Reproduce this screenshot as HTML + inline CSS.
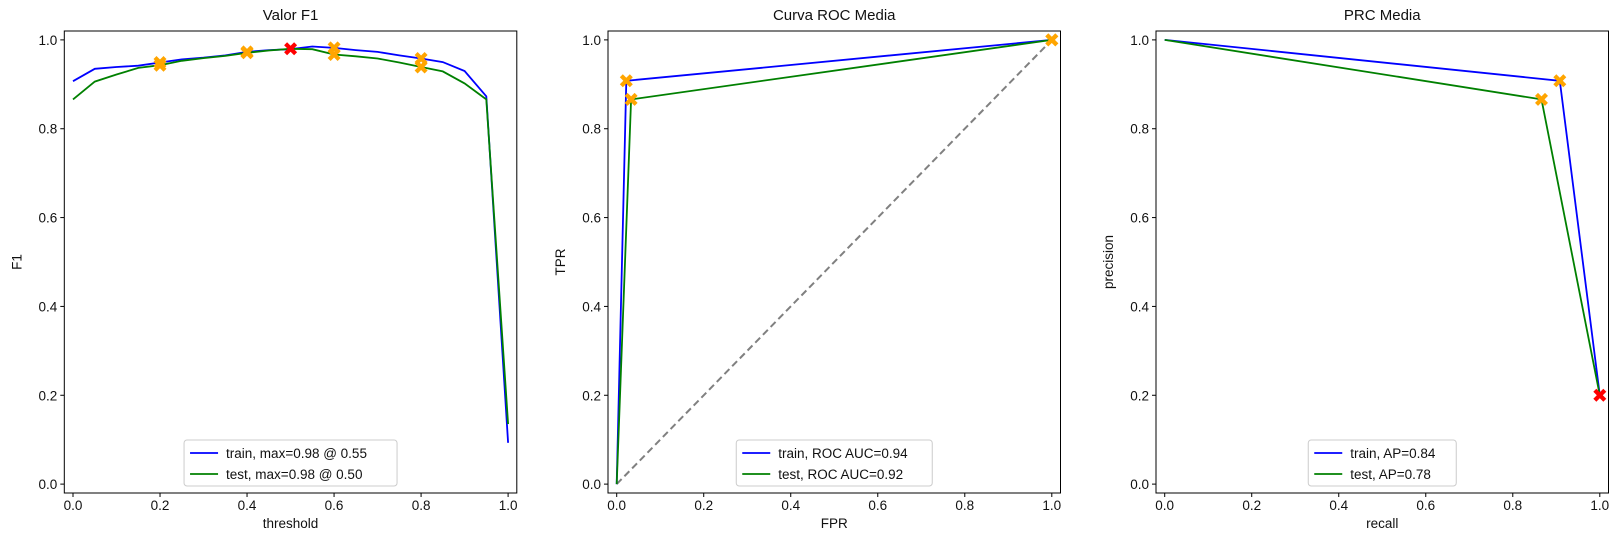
<!DOCTYPE html>
<html><head><meta charset="utf-8"><style>
html,body{margin:0;padding:0;background:#fff;}
svg{display:block;font-family:"Liberation Sans","DejaVu Sans",sans-serif;}
text{fill:#111;}
</style></head><body>
<svg id="fig" width="1623" height="546" viewBox="0 0 1623 546" xmlns="http://www.w3.org/2000/svg"></svg>
<script>
// ---- data ----
const thresholds = [0,0.05,0.1,0.15,0.2,0.25,0.3,0.35,0.4,0.45,0.5,0.55,0.6,0.65,0.7,0.75,0.8,0.85,0.9,0.95,1.0];
const f1Train = [0.907,0.935,0.939,0.942,0.949,0.956,0.960,0.965,0.973,0.977,0.979,0.985,0.982,0.977,0.973,0.965,0.958,0.950,0.930,0.873,0.093];
const f1Test  = [0.866,0.906,0.922,0.937,0.943,0.953,0.959,0.964,0.971,0.976,0.980,0.979,0.967,0.963,0.958,0.949,0.939,0.929,0.902,0.866,0.135];
const markThresholds = [0.2,0.4,0.6,0.8];
const bestThreshold = 0.5;
const rocTrainFpr = [0,0.022,1]; const rocTrainTpr = [0,0.908,1];
const rocTestFpr  = [0,0.033,1]; const rocTestTpr  = [0,0.866,1];
const prcTrainRecall = [0,0.908,1]; const prcTrainPrecision = [1,0.908,0.2];
const prcTestRecall  = [0,0.866,1]; const prcTestPrecision  = [1,0.866,0.2];
const ticks = [0,0.2,0.4,0.6,0.8,1.0];
const tickLabels = ["0.0","0.2","0.4","0.6","0.8","1.0"];

const NS="http://www.w3.org/2000/svg";
const svg=document.getElementById('fig');
function mk(tag,attrs,parent){const e=document.createElementNS(NS,tag);for(const k in attrs)e.setAttribute(k,attrs[k]);(parent||svg).appendChild(e);return e;}

const W=452.5,TOP=31,BOT=493;
function panel(left,title,xlabel,ylabel,name){
  const g=mk('g',{});
  
  
  const xs=v=>left+(v+0.02)/1.04*W;
  const ys=v=>BOT-(v+0.02)/1.04*(BOT-TOP);
  const t=mk('text',{x:left+W/2,y:20,'text-anchor':'middle','font-size':15},g);t.textContent=title;
  
  ticks.forEach((v,i)=>{
    const xt=mk('g',{},g);
    
    mk('line',{x1:xs(v),x2:xs(v),y1:BOT,y2:BOT+4,stroke:'#000','stroke-width':1},xt);
    const tx=mk('text',{x:xs(v),y:BOT+17,'text-anchor':'middle','font-size':13.5},xt);tx.textContent=tickLabels[i];
    const yt=mk('g',{},g);
    
    mk('line',{x1:left-4,x2:left,y1:ys(v),y2:ys(v),stroke:'#000','stroke-width':1},yt);
    const ty=mk('text',{x:left-7,y:ys(v)+5,'text-anchor':'end','font-size':13.5},yt);ty.textContent=tickLabels[i];
  });
  const xl=mk('text',{x:left+W/2,y:BOT+35,'text-anchor':'middle','font-size':13.5},g);xl.textContent=xlabel;
  
  const yl=mk('text',{x:0,y:0,'text-anchor':'middle','font-size':13.5,transform:`translate(${left-43},${(TOP+BOT)/2}) rotate(-90)`},g);yl.textContent=ylabel;
  
  return {g,xs,ys,left};
}
function line(p,xv,yv,color,name,extra){
  const d=xv.map((x,i)=>(i?'L':'M')+p.xs(x).toFixed(1)+','+p.ys(yv[i]).toFixed(1)).join('');
  const e=mk('path',Object.assign({d,fill:'none',stroke:color,'stroke-width':1.8},extra||{}),p.g);
  
}
function xmark(p,x,y,color,name){
  const cx=p.xs(x),cy=p.ys(y),a=6.5,b=3;
  const pts=[[-a,-a+b],[-a+b,-a],[0,-b],[a-b,-a],[a,-a+b],[b,0],[a,a-b],[a-b,a],[0,b],[-a+b,a],[-a,a-b],[-b,0]];
  const e=mk('polygon',{points:pts.map(q=>(cx+q[0]).toFixed(1)+','+(cy+q[1]).toFixed(1)).join(' '),fill:color},p.g);
  
}
function frame(p){
  const r=mk('rect',{x:p.left,y:TOP,width:W,height:BOT-TOP,fill:'none',stroke:'#000','stroke-width':1},p.g);
  
}
function legend(p,labels){
  const w=labels.w,x0=p.left+W/2-w/2,y0=BOT-53;
  const lg=mk('g',{},p.g);
  
  mk('rect',{x:x0,y:y0,width:w,height:46,rx:3,fill:'#fff','fill-opacity':0.85,stroke:'#ccc'},lg);
  [['#0000ff',labels.a],['#008000',labels.b]].forEach((it,i)=>{
    const e=mk('g',{},lg);
    
    const yy=y0+13+i*21;
    mk('line',{x1:x0+6,x2:x0+34,y1:yy,y2:yy,stroke:it[0],'stroke-width':1.8},e);
    const t=mk('text',{x:x0+42,y:yy+5,'font-size':13.5},e);t.textContent=it[1];
  });
}

// Panel 1
const p1=panel(64.3,'Valor F1','threshold','F1','f1-chart');
line(p1,thresholds,f1Train,'#0000ff','train-f1-line');
line(p1,thresholds,f1Test,'#008000','test-f1-line');
markThresholds.forEach(t=>{const i=thresholds.findIndex(v=>Math.abs(v-t)<1e-9);
  xmark(p1,t,f1Train[i],'orange','train-threshold-marker');xmark(p1,t,f1Test[i],'orange','test-threshold-marker');});
{const i=thresholds.findIndex(v=>Math.abs(v-bestThreshold)<1e-9);xmark(p1,bestThreshold,f1Test[i],'red','best-threshold-marker');}
frame(p1);
legend(p1,{w:213,a:'train, max=0.98 @ 0.55',b:'test, max=0.98 @ 0.50'});

// Panel 2
const p2=panel(608,'Curva ROC Media','FPR','TPR','roc-chart');
line(p2,[0,1],[0,1],'#808080','chance-diagonal',{'stroke-dasharray':'7,4','stroke-width':2});
line(p2,rocTrainFpr,rocTrainTpr,'#0000ff','train-roc-line');
line(p2,rocTestFpr,rocTestTpr,'#008000','test-roc-line');
[1,2].forEach(i=>{xmark(p2,rocTrainFpr[i],rocTrainTpr[i],'orange','train-roc-marker');xmark(p2,rocTestFpr[i],rocTestTpr[i],'orange','test-roc-marker');});
frame(p2);
legend(p2,{w:196,a:'train, ROC AUC=0.94',b:'test, ROC AUC=0.92'});

// Panel 3
const p3=panel(1156,'PRC Media','recall','precision','prc-chart');
line(p3,prcTrainRecall,prcTrainPrecision,'#0000ff','train-prc-line');
line(p3,prcTestRecall,prcTestPrecision,'#008000','test-prc-line');
xmark(p3,prcTrainRecall[1],prcTrainPrecision[1],'orange','train-prc-marker');
xmark(p3,prcTestRecall[1],prcTestPrecision[1],'orange','test-prc-marker');
xmark(p3,prcTrainRecall[2],prcTrainPrecision[2],'red','best-prc-marker');
frame(p3);
legend(p3,{w:148,a:'train, AP=0.84',b:'test, AP=0.78'});
</script>
</body></html>
